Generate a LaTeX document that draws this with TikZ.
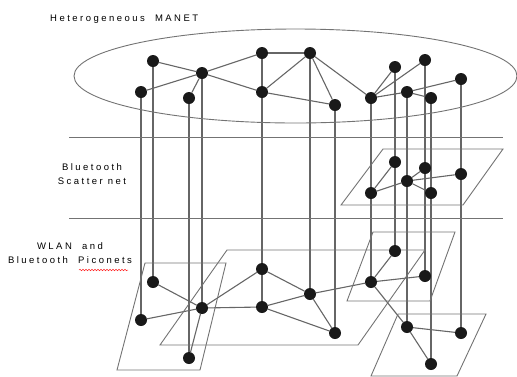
\documentclass[tikz,border=0pt]{standalone}
\usepackage{fontspec}
\setmainfont{Liberation Sans}
\usepackage{xcolor}
\usepackage{tikz}
\usetikzlibrary{decorations.pathmorphing,backgrounds}

\tikzset{
  host/.style={circle,fill=black!90,inner sep=0pt,minimum size=12pt},
  link/.style={black!60,line width=1.1pt},
  plane/.style={black!55,line width=0.9pt},
  lbl/.style={font=\fontsize{9.5}{11}\selectfont\addfontfeatures{LetterSpace=26},align=center,inner sep=0pt}
}

\begin{document}
\begin{tikzpicture}[x=1pt,y=-1pt]
  \useasboundingbox (0,0) rectangle (517,376);
  % layers
  \draw[plane] (295.5,76) ellipse (221.5 and 47);
  \draw[plane] (69,137) -- (503,137);
  \draw[plane] (69,218) -- (503,218);
  \draw[plane] (383,149) -- (503,149) -- (463,205) -- (341,205) -- cycle;
  \draw[plane] (145,263) -- (226,263) -- (200,370) -- (117,370) -- cycle;
  \draw[plane] (227,250) -- (425,250) -- (358,345) -- (160,345) -- cycle;
  \draw[plane] (373,232) -- (455,232) -- (430,301) -- (347,301) -- cycle;
  \draw[plane] (398,314) -- (486,314) -- (457,376) -- (371,376) -- cycle;
  \node[lbl,anchor=west] (manet) at (50,19) {Heterogeneous\ \ MANET};
  \node[lbl] (scat) at (92,174) {Bluetooth\\[3pt]Scatter net};
  \node[lbl] (pico) at (70,253) {WLAN\ \ and\\[3pt]Bluetooth\ \ Piconets};
  \draw[red!85,line width=0.5pt,decorate,decoration={snake,amplitude=0.8pt,segment length=3pt}]
    (79,270) -- (128,270);
  % MANET hosts
  \node[host] (m1) at (153,61) {};
  \node[host] (m2) at (202,73) {};
  \node[host] (m3) at (141,92) {};
  \node[host] (m4) at (189,98) {};
  \node[host] (m5) at (262,53) {};
  \node[host] (m6) at (310,53) {};
  \node[host] (m7) at (262,92) {};
  \node[host] (m8) at (335,105) {};
  \node[host] (m9) at (371,98) {};
  \node[host] (m10) at (395,67) {};
  \node[host] (m11) at (425,60) {};
  \node[host] (m12) at (407,92) {};
  \node[host] (m13) at (431,98) {};
  \node[host] (m14) at (461,79) {};
  % scatternet hosts
  \node[host] (s9) at (371,193) {};
  \node[host] (s10) at (395,162) {};
  \node[host] (s11) at (425,168) {};
  \node[host] (s12) at (407,181) {};
  \node[host] (s13) at (431,193) {};
  \node[host] (s14) at (461,174) {};
  % piconet hosts
  \node[host] (p1) at (153,282) {};
  \node[host] (p2) at (202,308) {};
  \node[host] (p3) at (141,320) {};
  \node[host] (p4) at (189,358) {};
  \node[host] (p5) at (262,269) {};
  \node[host] (p6) at (310,294) {};
  \node[host] (p7) at (262,307) {};
  \node[host] (p8) at (335,333) {};
  \node[host] (p9) at (371,282) {};
  \node[host] (p10) at (395,251) {};
  \node[host] (p11) at (425,276) {};
  \node[host] (p12) at (407,327) {};
  \node[host] (p13) at (431,364) {};
  \node[host] (p14) at (461,333) {};
  \begin{pgfonlayer}{background}
    % vertical ties
    \foreach \i in {1,...,8}
      \draw[link] (m\i.center) -- (p\i.center);
    \foreach \i in {9,...,14}
      \draw[link] (m\i.center) -- (s\i.center) -- (p\i.center);
    % links
    \foreach \a/\b in {1/2,3/2,2/4,2/5,2/7,5/6,7/6,7/8,6/8,6/9,9/10,9/11,9/12,12/14,12/13} {
      \draw[link] (m\a) -- (m\b);
      \draw[link] (p\a) -- (p\b);
    }
    \foreach \a/\b in {9/10,9/12,12/11,12/14,12/13}
      \draw[link] (s\a) -- (s\b);
  \end{pgfonlayer}
\end{tikzpicture}
\end{document}
